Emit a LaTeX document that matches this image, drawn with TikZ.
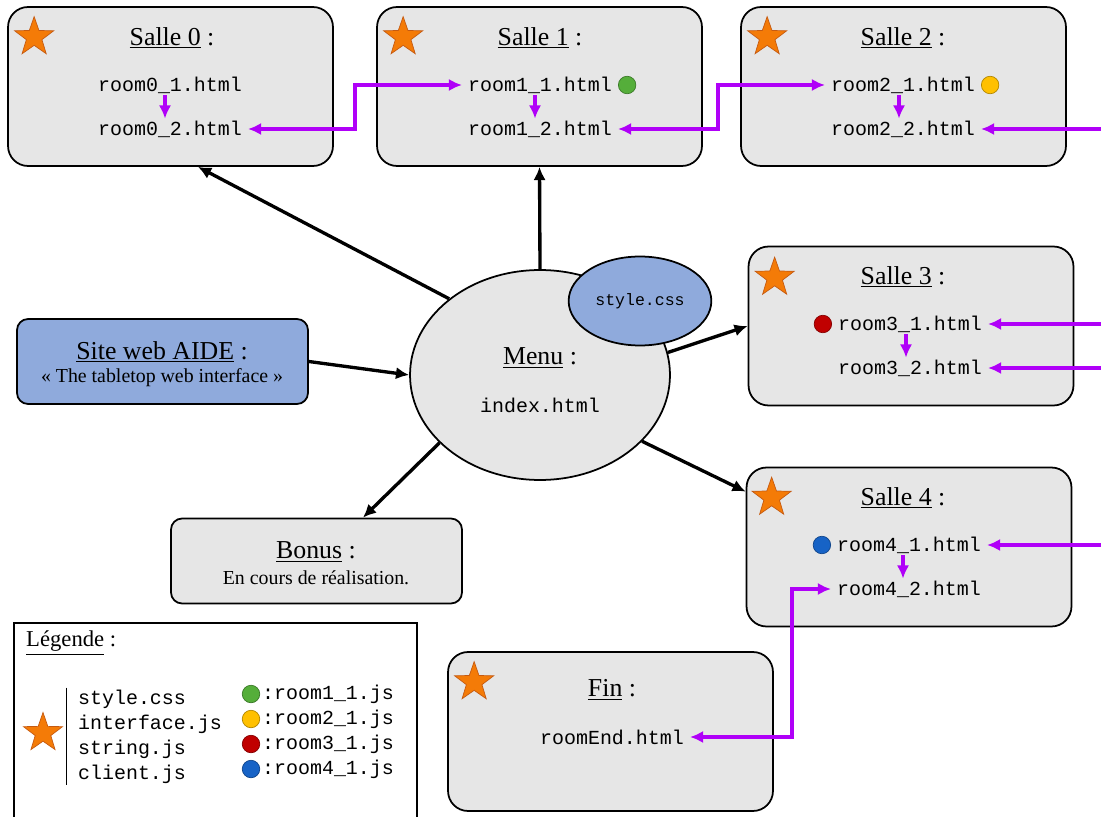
\documentclass[tikz,border=0pt]{standalone}
\usepackage{fontspec}
\setmainfont{Liberation Serif}
\setmonofont{Liberation Mono}
\usepackage{tikz}
\usetikzlibrary{positioning}
\usetikzlibrary{arrows.meta}
\usetikzlibrary{shapes.geometric}

\definecolor{fondgris}{HTML}{E6E6E6}
\definecolor{bleuaide}{HTML}{8FAADC}
\definecolor{violetlien}{HTML}{B000F8}
\definecolor{orangeet}{HTML}{F47B07}
\definecolor{orangebord}{HTML}{C55A11}
\definecolor{vertjs}{HTML}{55AE3A}
\definecolor{jaunejs}{HTML}{FFC000}
\definecolor{rougejs}{HTML}{C00000}
\definecolor{bleujs}{HTML}{1763C6}

\tikzset{
  salle/.style={draw, line width=1pt, rounded corners=0.4cm, fill=fondgris, minimum width=6.5cm, minimum height=3.18cm},
  cadre/.style={draw, line width=1pt, rounded corners=0.22cm, minimum width=5.82cm, minimum height=1.7cm},
  titre/.style={font=\fontsize{14.7}{17}\selectfont},
  soustitre/.style={font=\fontsize{11.3}{13}\selectfont},
  fichier/.style={font=\ttfamily\fontsize{11.35}{14.2}\selectfont, inner ysep=1pt},
  etoile/.style={star, star points=5, star point ratio=2.5, fill=orangeet, draw=orangebord, minimum size=0.82cm, inner sep=0pt},
  pastille/.style={circle, fill=#1, draw=#1!70!black, minimum size=0.35cm, inner sep=0pt},
  pointe/.tip={Latex[length=7.5pt,width=7pt]},
  fleche/.style={-pointe, line width=1.9pt},
  lien/.style={-pointe, line width=2pt, violetlien}
}

\begin{document}
\begin{tikzpicture}[x=0.02cm, y=-0.02cm]
    \clip (0,0) rectangle (1101,817);

    \node[salle] (s0) at (170.5,86.5) {};
    \node[etoile] at ([xshift=0.54cm,yshift=-0.62cm]s0.north west) {};
    \node[titre] (t0) at (172,38) {\underline{Salle 0} :};
    \node[fichier] (r01) at (170,85) {room0\_1.html};
    \node[fichier] (r02) at (170,129) {room0\_2.html};

    \node[salle] (s1) at (539.5,86.5) {};
    \node[etoile] at ([xshift=0.54cm,yshift=-0.62cm]s1.north west) {};
    \node[titre] (t1) at (540,38) {\underline{Salle 1} :};
    \node[fichier] (r11) at (540,85) {room1\_1.html};
    \node[fichier] (r12) at (540,129) {room1\_2.html};
    \node[pastille=vertjs, right=0pt of r11] (p1) {};

    \node[salle] (s2) at (903.5,86.5) {};
    \node[etoile] at ([xshift=0.54cm,yshift=-0.62cm]s2.north west) {};
    \node[titre] (t2) at (903,38) {\underline{Salle 2} :};
    \node[fichier] (r21) at (903,85) {room2\_1.html};
    \node[fichier] (r22) at (903,129) {room2\_2.html};
    \node[pastille=jaunejs, right=0pt of r21] (p2) {};

    \node[salle] (s3) at (911,326) {};
    \node[etoile] at ([xshift=0.54cm,yshift=-0.64cm]s3.north west) {};
    \node[titre] (t3) at (903,277) {\underline{Salle 3} :};
    \node[fichier] (r31) at (910,324) {room3\_1.html};
    \node[fichier] (r32) at (910,368) {room3\_2.html};
    \node[pastille=rougejs, left=0pt of r31] (p3) {};

    \node[salle] (s4) at (909,547) {};
    \node[etoile] at ([xshift=0.52cm,yshift=-0.62cm]s4.north west) {};
    \node[titre] (t4) at (903,498) {\underline{Salle 4} :};
    \node[fichier] (r41) at (909,545) {room4\_1.html};
    \node[fichier] (r42) at (909,589) {room4\_2.html};
    \node[pastille=bleujs, left=0pt of r41] (p4) {};

    \node[salle] (fin) at (610.5,731.5) {};
    \node[etoile] at ([xshift=0.54cm,yshift=-0.62cm]fin.north west) {};
    \node[titre] (tfin) at (612,690) {\underline{Fin} :};
    \node[fichier] (rfin) at (612,737) {roomEnd.html};

    \node[cadre, fill=bleuaide] (site) at (162.5,361.5) {};
    \node[titre] at (162,352) {\underline{Site web AIDE} :};
    \node[soustitre] at (162,378) {« The tabletop web interface »};

    \node[cadre, fill=fondgris] (bonus) at (316.5,561) {};
    \node[titre] at (316,552) {\underline{Bonus} :};
    \node[soustitre] at (316,578) {En cours de réalisation.};

    \node[ellipse, draw, line width=1pt, fill=fondgris, minimum width=5.2cm, minimum height=4.2cm] (menu) at (540,375) {};
    \node[titre] (tmenu) at (540,358) {\underline{Menu} :};
    \node[fichier] (index) at (540,405) {index.html};
    \node[ellipse, draw, line width=1pt, fill=bleuaide, minimum width=2.74cm, minimum height=1.78cm, font=\ttfamily\fontsize{9.4}{11}\selectfont] (stylecss) at (640,301) {style.css};

    \draw[fleche] (menu.140)--([xshift=0.55cm]s0.south);
    \draw[fleche] (menu.north)--(s1.south);
    \draw[fleche] (menu.10)--(s3.west);
    \draw[fleche] (menu.-33)--([yshift=-0.5cm]s4.north west);
    \draw[fleche] (menu.214)--([xshift=0.93cm]bonus.north);
    \draw[fleche] (site.east)--(menu.west);

    \coordinate (bord) at (1101,0);
    \coordinate (coude0) at (355,110);
    \coordinate (coude1) at (718,105);
    \coordinate (coude4) at (792,660);
    \draw[lien] ([xshift=-0.1cm]r01.south)--([xshift=-0.1cm]r02.north);
    \draw[lien] ([xshift=-0.1cm]r11.south)--([xshift=-0.1cm]r12.north);
    \draw[lien] ([xshift=-0.08cm]r21.south)--([xshift=-0.08cm]r22.north);
    \draw[lien] ([xshift=-0.08cm]r31.south)--([xshift=-0.08cm]r32.north);
    \draw[lien] ([xshift=-0.12cm]r41.south)--([xshift=-0.12cm]r42.north);
    \draw[lien,pointe-pointe] (r02.east)-|(coude0)|-(r11.west);
    \draw[lien,pointe-pointe] (r12.east)-|(coude1)|-(r21.west);
    \draw[lien,pointe-pointe] (r42.west)-|(coude4)|-(rfin.east);
    \draw[lien] (bord |- r22.east)--(r22.east);
    \draw[lien] (bord |- r31.east)--(r31.east);
    \draw[lien] (bord |- r32.east)--(r32.east);
    \draw[lien] (bord |- r41.east)--(r41.east);

    \node[draw, line width=1.2pt, minimum width=8.06cm, minimum height=4.4cm, anchor=north west] (legende) at (13,622) {};
    \node[font=\fontsize{12.9}{15}\selectfont, anchor=west] (legtitre) at (20,643) {\underline{Légende} :};
    \node[etoile] (legetoile) at (43,733) {};
    \node[fichier, align=left, anchor=west] (listefich) at (72,736.5) {style.css\\interface.js\\string.js\\client.js};
    \draw ([xshift=-0.12cm]listefich.north west)--([xshift=-0.12cm]listefich.south west);
    \foreach \c/\n [count=\i] in {vertjs/1,jaunejs/2,rougejs/3,bleujs/4}
    {
        \node[pastille=\c] (leg\n) at (251,669+25*\i) {};
        \node[fichier, inner xsep=1pt, right=0pt of leg\n] {:room\n\_1.js};
    }
\end{tikzpicture}
\end{document}
